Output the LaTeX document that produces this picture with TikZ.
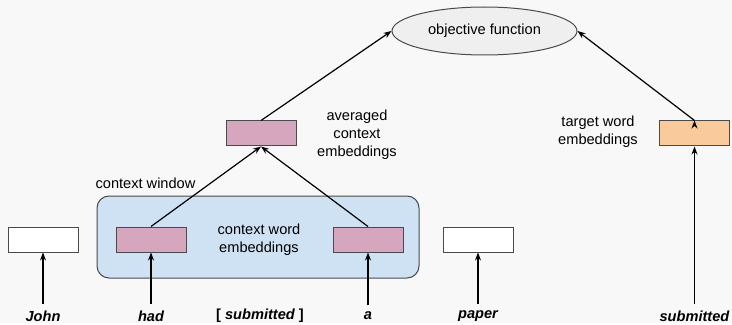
\documentclass[tikz,border=0pt]{standalone}
\usepackage{fontspec}
\setmainfont{Liberation Sans}
\usetikzlibrary{shapes}
\usetikzlibrary{positioning}
\usetikzlibrary{arrows.meta}
\definecolor{bggray}{HTML}{F8F8F8}
\definecolor{ctxpink}{HTML}{D5A6BD}
\definecolor{tgtorange}{HTML}{F9CB9C}
\definecolor{winblue}{HTML}{CFE2F3}
\definecolor{objgray}{HTML}{EFEFEF}
\definecolor{edgegray}{HTML}{4A4A4A}

\begin{document}
\begin{tikzpicture}[x=1pt,y=-1pt,->,>={Stealth[length=8pt,width=6pt]},line width=1.2pt,
  font=\fontsize{14.6}{18}\selectfont,
  emb node/.style={rectangle,draw=edgegray,line width=1pt,minimum width=70pt,minimum height=25pt,inner sep=0pt},
  obj node/.style={ellipse,draw=edgegray,line width=1pt,fill=objgray,minimum width=185pt,minimum height=48pt,inner sep=0pt},
  text node/.style={align=center,inner sep=0pt},
  word node/.style={font=\fontsize{14.6}{18}\selectfont\bfseries\itshape,inner sep=2pt}]

	      \fill[bggray] (0,0) rectangle (732,323);

	      \node[rectangle,draw=edgegray,line width=1pt,fill=winblue,rounded corners=12pt,minimum width=322pt,minimum height=82pt] at (258,237) (win) {};
	      \node[text node,anchor=west] at (95,183) (winlab) {context window};
	      \node[text node] at (259,240) (ctxlab) {context word\\embeddings};

	      \node[obj node] at (484.5,31) (obj) {objective function};
	      \node[emb node,fill=ctxpink] at (261,133.5) (avg) {};
	      \node[text node] at (357,135) (avglab) {averaged\\context\\embeddings};
	      \node[emb node,fill=tgtorange] at (694.5,133.5) (tgt) {};
	      \node[text node] at (598,132) (tgtlab) {target word\\embeddings};

	      \node[emb node,fill=white] at (43,239.5) (john) {};
	      \node[emb node,fill=ctxpink] at (151,239.5) (had) {};
	      \node[emb node,fill=ctxpink] at (368,239.5) (a) {};
	      \node[emb node,fill=white] at (478,239.5) (paper) {};

	      \node[word node] at (43,316) (w1) {John};
	      \node[word node] at (151,316) (w2) {had};
	      \node[word node] at (260,316) (w3) {{\upshape[} submitted {\upshape]}};
	      \node[word node] at (368,316) (w4) {a};
	      \node[word node] at (478,316) (w5) {paper};
	      \node[word node] at (694.5,316) (w6) {submitted};

	      \path[draw]
	      (w1) edge[shorten <=4pt] (john)
	      (w2) edge[shorten <=4pt] (had)
	      (w4) edge[shorten <=4pt] (a)
	      (w5) edge[shorten <=4pt] (paper)
	      (w6) edge[shorten <=4pt] (tgt)
	      (had.north) edge (avg.south)
	      (a.north) edge (avg.south)
	      (avg.north) edge (obj.west)
	      (tgt.north) edge (obj.east)
	      ;

	    \end{tikzpicture}
\end{document}
